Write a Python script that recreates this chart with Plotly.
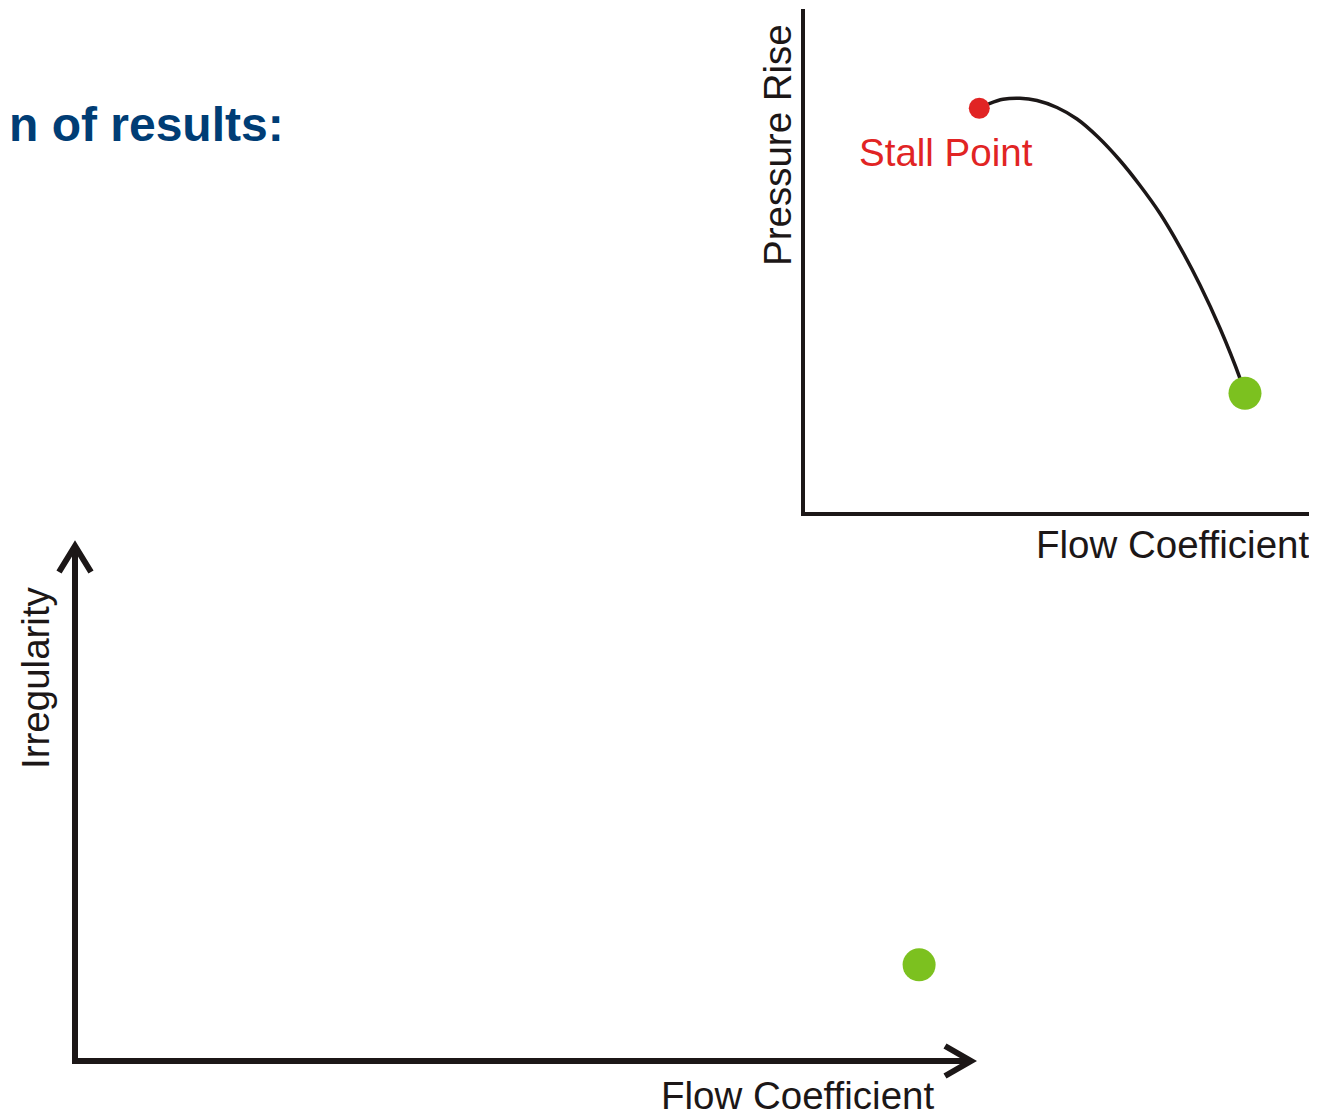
import plotly.graph_objects as go

# page body has an 8px margin: the figure starts at (8, 8) in the window
OFF = 8
W, H = 1317 - OFF, 1119 - OFF

# ---- data ----
curve_x = [3.458, 3.671, 3.929, 4.266, 4.603, 5.000, 5.397, 5.813, 6.250, 6.647, 7.044, 7.440, 7.837, 8.234, 8.631, 8.730]
curve_y = [8.026, 8.125, 8.205, 8.225, 8.181, 8.042, 7.813, 7.455, 6.988, 6.491, 5.934, 5.268, 4.513, 3.652, 2.658, 2.360]
stall_x, stall_y = [3.458], [8.026]
op_top_x, op_top_y = [8.73], [2.36]
op_bot_x, op_bot_y = [9.44], [1.82]

title_text = "n of results:"
label_pressure = "Pressure Rise"
label_flow = "Flow Coefficient"
label_irreg = "Irregularity"
label_stall = "Stall Point"

INK = "#1c1717"
RED = "#e12424"
GREEN = "#7cc11f"
BLUE = "#003d75"
FONT = "Liberation Sans, Arial, sans-serif"
FS = 38.5


def px(x):
    return (x - OFF) / W


def py(y):
    return 1 - (y - OFF) / H


fig = go.Figure()

# top-right chart
fig.add_trace(go.Scatter(x=curve_x, y=curve_y, mode="lines",
                         line=dict(color=INK, width=3.5, shape="spline", smoothing=1.0),
                         xaxis="x", yaxis="y", showlegend=False, hoverinfo="skip"))
fig.add_trace(go.Scatter(x=stall_x, y=stall_y, mode="markers", marker=dict(color=RED, size=21, line_width=0),
                         xaxis="x", yaxis="y", showlegend=False))
fig.add_trace(go.Scatter(x=op_top_x, y=op_top_y, mode="markers", marker=dict(color=GREEN, size=33, line_width=0),
                         xaxis="x", yaxis="y", showlegend=False))
# bottom-left chart
fig.add_trace(go.Scatter(x=op_bot_x, y=op_bot_y, mode="markers", marker=dict(color=GREEN, size=33, line_width=0),
                         xaxis="x2", yaxis="y2", showlegend=False))

ax_common = dict(showgrid=False, zeroline=False, showticklabels=False, ticks="", range=[0, 10],
                 showline=True, linecolor=INK)

fig.update_layout(
    width=W, height=H,
    margin=dict(l=0, r=0, t=0, b=0),
    paper_bgcolor="white", plot_bgcolor="white",
    showlegend=False,
    xaxis=dict(**ax_common, linewidth=4, domain=[px(805), px(1309)], anchor="y"),
    yaxis=dict(**ax_common, linewidth=4, domain=[py(512), py(9)], anchor="x"),
    xaxis2=dict(**ax_common, linewidth=6, domain=[px(78), px(969)], anchor="y2"),
    yaxis2=dict(**ax_common, linewidth=6, domain=[py(1058), py(546)], anchor="x2"),
)

# arrow heads of the bottom chart axes
fig.add_shape(type="path", xref="paper", yref="paper",
              path=f"M {px(59)},{py(572)} L {px(75)},{py(546)} L {px(91)},{py(572)}",
              line=dict(color=INK, width=6))
fig.add_shape(type="path", xref="paper", yref="paper",
              path=f"M {px(945)},{py(1046)} L {px(971)},{py(1061)} L {px(945)},{py(1076)}",
              line=dict(color=INK, width=6))


def ann(text, x, y, size=FS, color=INK, angle=0, xanchor="center", yanchor="middle", bold=False):
    fig.add_annotation(text=f"<b>{text}</b>" if bold else text, xref="paper", yref="paper",
                       x=px(x), y=py(y), xanchor=xanchor, yanchor=yanchor, showarrow=False,
                       textangle=angle, font=dict(family=FONT, size=size, color=color))


ann(title_text, 286, 125, size=48, color=BLUE, xanchor="right", bold=True)
ann(label_pressure, 777, 145, angle=-90)
ann(label_flow, 1311, 545, xanchor="right")
ann(label_stall, 946, 152, color=RED)
ann(label_irreg, 35, 678, angle=-90)
ann(label_flow, 797, 1119, yanchor="bottom")

fig.write_html("out.html")
